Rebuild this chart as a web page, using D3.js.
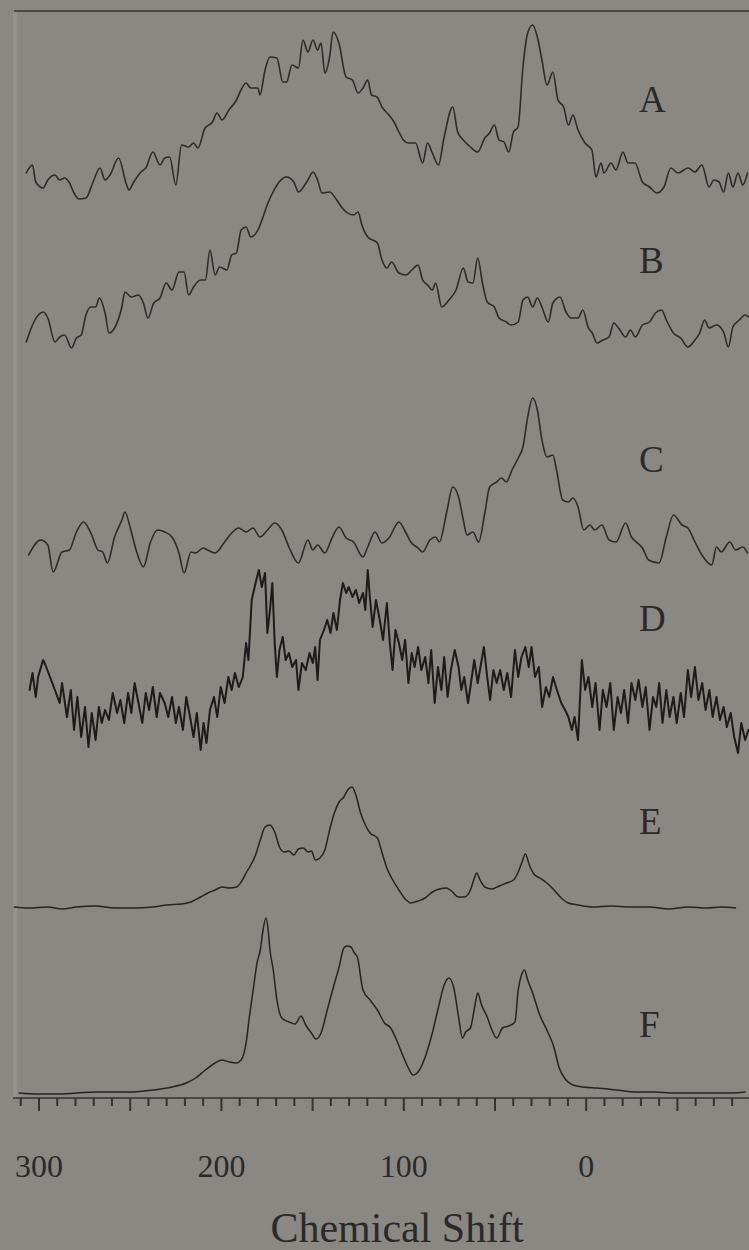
<!DOCTYPE html>
<html>
<head>
<meta charset="utf-8">
<script src="https://cdn.jsdelivr.net/npm/d3@7"></script>
<style>
  html, body { margin: 0; padding: 0; background: #8b8884; }
  svg { display: block; }
</style>
</head>
<body>
<svg id="chart" width="749" height="1250"></svg>
<script>
// ---- Spectra: chemical shift (ppm) and intensity (a.u., above each trace's own baseline) ----
const shiftA = [306.7,303.3,301.5,297.5,294.9,291.0,288.4,285.7,283.3,280.5,277.9,274.0,270.1,266.3,263.5,260.8,256.1,251.7,250.4,247.8,243.8,241.2,237.3,233.4,230.8,228.1,224.7,221.6,217.7,215.0,212.6,208.7,204.6,202.1,199.4,195.6,191.5,189.0,186.2,183.6,179.7,178.6,175.8,173.1,169.3,166.1,164.0,161.0,157.5,155.0,152.3,149.5,147.0,145.1,143.0,140.4,138.5,135.3,131.4,127.9,124.8,122.1,119.5,117.4,114.4,111.7,107.9,105.1,102.4,99.9,97.2,93.3,89.4,86.7,84.1,80.7,77.7,72.9,70.2,67.1,63.2,59.2,55.3,52.7,50.1,47.5,44.8,42.2,39.6,37.1,34.4,31.8,29.1,26.5,24.0,21.2,18.0,15.2,12.1,9.5,7.0,4.2,0.4,-3.4,-5.6,-8.4,-10.0,-13.9,-16.6,-20.4,-23.2,-27.0,-31.1,-35.0,-39.0,-42.9,-46.7,-50.6,-56.1,-59.9,-63.7,-67.6,-70.3,-73.1,-75.6,-78.2,-80.7,-83.5,-86.1,-88.7];
const intensityA = [2.5,3.3,1.6,1.0,1.8,2.3,1.8,2.0,1.6,0.5,-0.1,0.0,1.6,3.0,1.8,2.3,4.0,1.3,0.8,1.6,2.6,3.0,4.6,3.3,4.0,4.1,1.3,5.3,5.1,5.5,5.0,7.0,7.6,8.5,7.8,8.8,9.8,10.8,11.5,11.0,11.0,10.3,12.8,14.1,14.0,11.6,11.6,13.3,13.0,15.8,14.6,15.8,14.8,15.5,12.5,14.1,16.6,15.5,12.1,11.8,10.5,11.0,11.8,10.3,10.1,9.1,8.3,7.6,6.6,5.8,5.5,5.5,3.5,5.5,4.5,3.3,6.0,9.1,6.6,5.8,5.1,4.6,6.0,6.5,7.3,5.8,5.6,4.6,6.6,7.1,13.1,16.5,17.3,16.1,13.8,11.3,12.6,9.8,9.1,7.3,8.3,6.8,5.5,4.8,2.1,3.5,2.5,3.5,2.8,4.6,3.5,3.5,1.6,1.1,0.5,1.1,3.0,2.5,3.0,2.6,3.3,1.1,1.8,1.6,0.6,2.5,1.1,2.5,1.3,2.5];

const shiftB = [306.7,302.8,297.5,294.9,291.0,288.4,285.7,281.9,279.2,276.6,274.0,271.3,268.7,266.6,263.5,261.3,258.3,254.3,252.6,249.1,245.2,242.5,240.0,236.8,233.4,230.0,226.8,223.0,220.2,217.7,215.0,211.1,208.5,206.0,203.2,200.7,196.7,194.1,191.5,188.9,186.2,183.6,179.7,177.1,174.2,171.4,168.1,164.0,160.0,157.5,152.3,149.5,147.0,144.6,140.4,136.5,133.9,131.3,127.3,124.8,122.7,119.5,114.2,111.7,108.9,106.4,102.4,98.5,95.3,91.9,89.4,86.7,84.1,82.3,78.9,75.0,71.1,67.1,64.5,61.8,59.2,56.6,54.0,50.1,47.5,43.5,41.0,37.0,34.4,31.8,29.1,26.5,24.0,20.5,18.0,14.1,10.8,8.2,4.2,1.6,-1.5,-3.6,-6.2,-9.4,-12.8,-15.4,-18.0,-21.9,-24.5,-27.2,-31.1,-35.0,-38.2,-41.6,-44.2,-48.1,-52.1,-56.0,-59.9,-62.5,-65.2,-67.6,-71.7,-75.6,-78.2,-80.7,-84.2,-87.3,-89.5];
const intensityB = [1.1,3.0,4.1,3.5,1.1,1.6,1.8,0.5,1.5,1.8,3.8,4.6,4.6,5.5,4.0,2.0,2.5,4.6,6.1,5.6,5.8,5.0,3.5,5.0,5.5,7.0,6.3,8.1,8.1,5.8,6.6,7.3,7.3,10.3,7.8,8.6,8.3,9.8,10.0,12.3,12.6,11.6,12.3,13.5,15.0,16.1,17.1,17.6,17.1,16.1,17.3,18.1,17.3,16.0,16.1,15.3,14.6,14.1,13.8,14.1,12.8,11.6,11.0,9.3,8.5,9.1,8.0,7.8,8.3,8.8,7.3,6.8,6.3,7.0,4.6,5.3,6.3,8.5,7.1,7.0,9.5,7.0,5.1,4.6,3.5,3.1,2.8,3.1,5.3,5.6,4.6,5.5,4.6,3.1,5.0,5.6,4.1,3.5,3.5,4.3,2.5,2.0,1.0,1.3,1.6,3.0,2.5,1.6,2.3,1.6,2.8,3.1,4.0,4.3,3.3,2.0,1.5,0.6,1.3,2.0,3.3,2.5,2.8,2.1,0.6,2.6,3.3,3.8,3.6];

const shiftC = [305.4,298.8,294.9,292.0,287.1,283.1,279.2,275.3,271.3,267.4,264.8,262.2,258.3,254.3,252.6,249.8,246.5,242.5,238.6,234.7,230.8,226.8,223.0,220.2,216.4,213.8,209.8,207.2,203.2,198.0,194.1,190.2,186.2,182.4,178.6,174.4,170.5,166.6,162.7,157.5,152.3,149.6,147.0,143.0,139.1,135.3,131.3,127.3,122.1,119.5,115.5,111.7,107.9,102.4,98.5,95.9,91.9,89.4,85.4,82.3,80.2,76.3,72.9,69.7,67.1,65.1,61.8,58.7,55.3,52.7,48.8,46.2,43.5,40.4,37.0,34.4,31.8,29.1,26.5,24.0,21.2,18.0,16.0,12.6,9.5,7.0,4.2,1.1,-2.3,-4.9,-8.9,-12.8,-16.6,-21.9,-25.1,-27.7,-31.1,-34.5,-40.2,-44.2,-48.1,-52.8,-56.0,-59.9,-63.7,-69.1,-71.7,-74.3,-79.0,-82.2,-86.1,-88.7];
const intensityC = [1.3,2.8,2.3,-0.4,1.6,1.8,3.6,4.6,3.5,1.8,1.6,0.5,3.1,4.8,5.6,4.1,1.8,0.1,2.6,3.8,3.6,3.1,1.5,-0.5,1.6,1.5,2.0,1.8,1.5,2.6,3.5,4.0,3.6,4.0,3.1,3.8,4.5,3.8,2.1,0.5,2.8,1.8,2.3,1.5,3.0,4.1,3.0,2.6,1.1,2.1,3.6,2.5,3.0,4.6,3.5,2.6,2.0,1.6,2.8,3.1,2.6,5.5,8.1,7.1,4.8,3.3,3.6,2.6,5.5,8.1,8.6,9.0,8.6,9.8,11.0,12.1,15.1,17.0,15.8,12.8,11.1,11.3,9.8,6.8,6.6,7.0,6.1,3.8,4.3,3.8,4.3,2.8,2.6,4.5,3.1,2.6,2.0,0.8,0.5,3.1,5.3,4.3,4.0,2.6,1.3,0.3,2.1,1.6,2.6,1.8,2.1,1.5];

const shiftD = [304.9,303.3,301.5,300.2,297.5,296.2,293.7,291.0,288.4,287.1,284.4,282.3,280.5,278.7,276.6,274.5,272.6,270.8,268.7,266.9,265.3,263.5,261.4,259.3,256.9,255.1,253.0,250.9,249.1,247.3,245.2,243.1,241.2,239.4,237.3,235.2,233.4,230.8,228.9,226.8,224.7,223.0,220.8,219.0,216.9,215.0,213.2,211.1,209.5,207.9,206.0,203.8,202.0,200.1,198.0,195.9,194.1,192.3,190.2,188.0,186.2,184.9,183.1,181.0,179.2,177.6,175.8,174.5,173.1,171.8,170.5,169.3,167.9,166.1,164.5,162.7,160.9,158.8,157.5,155.6,153.5,151.4,149.6,148.3,147.0,145.7,143.5,141.7,139.9,138.3,136.4,134.7,133.1,131.3,129.9,127.9,126.0,124.2,122.1,120.8,119.5,118.2,116.8,115.0,112.9,111.1,109.0,107.4,105.9,104.3,102.4,100.6,99.0,97.2,95.4,93.8,91.9,90.1,88.0,86.2,84.7,82.8,81.0,79.1,77.6,75.7,73.9,71.8,69.7,68.2,66.6,64.5,62.9,61.1,59.2,57.7,55.8,54.0,52.4,50.6,48.8,46.9,44.9,43.0,40.9,38.8,37.0,35.2,33.1,31.2,29.7,27.8,25.7,23.9,21.8,20.0,17.9,15.8,13.4,11.3,9.5,7.6,6.1,4.2,2.1,0.3,-1.5,-3.6,-5.4,-7.6,-9.4,-11.4,-13.5,-15.4,-17.5,-19.3,-21.1,-23.2,-25.1,-27.2,-29.0,-31.1,-32.9,-35.0,-36.9,-38.7,-40.3,-42.1,-44.2,-46.0,-48.1,-49.9,-52.1,-53.9,-56.0,-57.8,-59.9,-61.8,-63.9,-65.7,-67.8,-69.6,-71.7,-73.6,-75.6,-77.4,-79.5,-81.4,-83.5,-85.3,-87.4,-89.2];
const intensityD = [6.8,8.5,6.1,8.1,9.8,9.3,8.1,6.8,5.5,7.5,4.1,6.8,2.8,6.1,2.1,5.1,1.1,4.5,1.8,5.1,3.5,4.8,3.8,6.5,4.5,5.8,3.5,6.5,4.5,7.5,5.5,3.5,6.5,4.8,7.1,4.1,6.5,5.5,4.1,6.1,3.5,5.1,2.8,6.1,4.1,2.1,4.5,0.8,3.5,1.5,4.8,6.1,4.1,7.1,5.5,8.1,6.8,8.5,7.1,8.1,11.5,9.8,15.8,17.5,18.8,17.1,18.5,12.5,14.8,17.5,11.5,8.1,10.8,12.1,9.8,10.5,9.1,9.8,6.8,9.5,8.8,10.5,9.5,11.1,7.8,11.8,12.8,13.8,12.5,14.5,12.8,15.8,17.5,16.5,17.1,16.1,16.8,15.5,16.5,14.8,18.8,15.8,13.1,15.8,13.8,11.8,15.5,11.5,8.8,12.8,11.5,9.8,11.8,7.5,10.5,9.1,11.1,8.8,10.1,7.5,10.8,5.5,9.1,6.8,10.1,6.1,8.8,10.8,9.1,6.8,8.1,5.5,7.5,9.8,7.5,9.1,11.1,8.1,5.8,8.8,7.5,8.8,6.8,8.5,6.1,10.8,8.1,10.1,11.1,9.1,11.1,8.1,9.1,5.1,7.1,6.1,8.1,6.8,5.5,4.8,4.1,2.8,4.1,1.8,9.8,6.8,8.1,5.1,7.5,2.8,6.8,5.1,7.5,2.8,6.1,4.5,6.8,3.5,7.5,5.8,7.8,5.1,7.1,2.8,6.1,5.1,7.5,3.5,6.8,4.1,6.1,3.5,6.5,4.1,8.8,6.1,9.1,5.8,7.5,4.8,6.8,4.1,6.1,3.8,5.1,3.1,4.5,2.1,0.5,3.5,1.8,2.8];

const shiftE = [313.3,305.4,294.9,287.1,279.2,268.7,258.3,247.8,237.3,229.4,221.6,216.4,211.1,207.2,203.2,199.4,195.4,191.5,188.9,186.2,183.6,181.0,178.4,175.8,173.1,170.5,167.9,165.3,162.7,160.0,157.5,154.8,152.2,150.4,148.2,145.7,143.0,140.4,137.8,135.2,132.6,130.5,128.1,126.0,123.4,120.8,118.2,114.2,111.6,109.0,106.4,102.4,98.5,95.9,91.9,88.0,84.1,80.2,76.3,73.6,69.7,66.6,63.2,61.4,59.8,57.9,55.3,51.4,47.4,43.5,39.6,37.0,34.9,33.1,30.9,28.4,25.2,21.3,17.3,13.4,9.5,4.2,-3.6,-14.1,-24.5,-35.0,-45.5,-56.0,-66.5,-74.3,-82.2];
const intensityE = [0.1,0.0,0.1,-0.1,0.1,0.2,0.0,0.0,0.1,0.3,0.4,0.6,1.1,1.5,1.8,2.1,2.0,2.1,2.6,3.5,4.3,5.3,6.8,8.1,8.3,7.6,6.1,5.6,5.7,5.3,5.9,6.0,5.6,5.7,4.8,5.0,5.8,7.8,9.5,10.6,11.1,11.8,12.1,11.3,9.5,8.3,7.5,7.0,5.5,4.0,3.0,1.8,0.8,0.5,0.7,1.0,1.6,1.9,2.0,1.7,1.1,1.1,1.8,2.8,3.5,2.8,2.1,1.9,2.2,2.5,2.8,3.6,4.6,5.4,4.3,3.4,3.0,2.5,1.8,1.0,0.5,0.3,0.1,0.2,0.1,0.1,-0.1,0.1,0.0,0.1,0.0];

const shiftF = [310.6,300.2,289.7,279.2,268.7,258.3,247.8,237.3,226.8,219.0,213.8,208.5,203.2,199.4,195.4,191.5,188.9,186.2,184.4,182.3,180.2,178.4,176.9,175.3,174.2,173.1,171.3,169.3,166.6,162.7,159.3,156.1,153.5,150.4,147.8,145.1,141.7,138.3,135.2,132.6,130.9,128.7,126.8,125.2,122.1,118.2,114.2,110.3,106.9,103.7,99.9,97.2,94.6,91.9,88.0,84.1,80.7,77.6,75.0,72.3,69.7,67.6,65.8,63.2,60.5,59.2,57.1,54.0,51.4,48.8,45.6,42.2,38.8,37.0,35.2,33.6,31.8,29.1,25.2,21.3,17.3,14.7,10.8,6.9,1.6,-6.2,-16.7,-27.2,-37.6,-48.1,-58.6,-69.1,-79.5,-87.4];
const intensityF = [0.0,-0.1,-0.1,0.0,0.1,0.1,0.1,0.3,0.6,1.0,1.5,2.3,3.0,3.3,3.1,3.0,3.3,5.0,7.6,10.3,13.0,14.3,16.3,17.5,16.5,14.3,12.3,9.3,7.5,7.1,6.9,7.7,6.8,6.0,5.4,6.0,8.3,10.6,12.6,14.5,14.7,14.6,14.0,13.6,10.3,9.3,8.3,7.0,6.5,5.3,3.6,2.5,1.8,2.1,3.6,6.0,8.6,10.8,11.5,10.5,7.6,5.5,6.1,6.5,9.0,10.0,8.8,7.6,6.3,5.5,6.5,6.7,7.1,10.3,11.8,12.3,11.3,10.0,7.8,6.3,4.5,2.6,1.3,0.8,0.6,0.5,0.3,0.1,0.1,0.0,0.0,0.0,0.0,0.1];

// Trace names and the vertical offset (a.u.) each trace is stacked at
const traceNames = ["A", "B", "C", "D", "E", "F"];
const traceOffsets = [90, 74.5, 53, 34, 19, 0.5];

// Axis: labelled shifts, tick spacing (ppm) and drawn extent of the axis
const labelShifts = [300, 200, 100, 0];
const minorStep = 10;
const majorStep = 50;
const shiftExtent = [314, -89.5];
const axisTitle = "Chemical Shift";

// ---- Layout ----
const W = 749, H = 1250;
const axisY = 1098;
const frameTop = 11;
const serif = "'Liberation Serif', 'Times New Roman', serif";
const ink = "#2a2a2a";

const svg = d3.select("#chart");

svg.append("rect").attr("width", W).attr("height", H).attr("fill", "#8b8884");

// Shift scale: high ppm on the left, as is usual for NMR
const x = d3.scaleLinear().domain([300, 0]).range([38.5, 585.7]);
// Intensity scale shared by all stacked traces
const y = d3.scaleLinear().domain([0, 108.8]).range([axisY, frameTop - 1]);

// Left edge strip and top rule of the plot frame
svg.append("rect")
  .attr("x", x(shiftExtent[0])).attr("y", frameTop)
  .attr("width", 4).attr("height", axisY - frameTop)
  .attr("fill", "#96938f");
svg.append("line")
  .attr("x1", x(shiftExtent[0]) + 1).attr("x2", W)
  .attr("y1", frameTop).attr("y2", frameTop)
  .attr("stroke", "#333").attr("stroke-width", 1.6);

// ---- Spectra ----
const traces = [
  { shift: shiftA, val: intensityA, curve: d3.curveMonotoneX, width: 1.6, color: "#2c2c2c" },
  { shift: shiftB, val: intensityB, curve: d3.curveMonotoneX, width: 1.6, color: "#2c2c2c" },
  { shift: shiftC, val: intensityC, curve: d3.curveMonotoneX, width: 1.6, color: "#2c2c2c" },
  { shift: shiftD, val: intensityD, curve: d3.curveLinear,    width: 2.0, color: "#1c1c1c" },
  { shift: shiftE, val: intensityE, curve: d3.curveMonotoneX, width: 1.5, color: "#242424" },
  { shift: shiftF, val: intensityF, curve: d3.curveMonotoneX, width: 1.5, color: "#242424" }
];

const plot = svg.append("g");
traces.forEach((t, i) => {
  const pts = t.shift.map((s, k) => [s, t.val[k] + traceOffsets[i]]);
  const line = d3.line()
    .x(d => x(d[0]))
    .y(d => y(d[1]))
    .curve(t.curve);
  plot.append("path")
    .attr("d", line(pts))
    .attr("fill", "none")
    .attr("stroke", t.color)
    .attr("stroke-width", t.width)
    .attr("stroke-linejoin", "round")
    .attr("stroke-linecap", "round");
});

// Trace letters
const labelBaselines = [112, 273, 472, 631, 834, 1037];
svg.append("g").selectAll("text")
  .data(traceNames)
  .join("text")
  .attr("x", 639)
  .attr("y", (d, i) => labelBaselines[i])
  .attr("font-family", serif)
  .attr("font-size", 37)
  .attr("fill", ink)
  .text(d => d);

// ---- Shift axis ----
const minorTicks = d3.range(Math.floor(shiftExtent[0] / minorStep) * minorStep, shiftExtent[1], -minorStep);
const majorTicks = minorTicks.filter(v => v % majorStep === 0);

const axisG = svg.append("g").attr("transform", `translate(0,${axisY})`);

axisG.append("line")
  .attr("x1", x(shiftExtent[0])).attr("x2", x(shiftExtent[1]))
  .attr("stroke", "#333").attr("stroke-width", 1.6);

const minorAxis = axisG.append("g")
  .call(d3.axisBottom(x).tickValues(minorTicks.filter(v => v % majorStep !== 0)).tickSize(8).tickFormat(""));
const majorAxis = axisG.append("g")
  .call(d3.axisBottom(x).tickValues(majorTicks).tickSize(13).tickFormat(""));
const labelAxis = axisG.append("g")
  .call(d3.axisBottom(x).tickValues(labelShifts).tickSize(0).tickPadding(56).tickFormat(d3.format("d")));

[minorAxis, majorAxis, labelAxis].forEach(g => {
  g.select(".domain").remove();
  g.selectAll(".tick line").attr("stroke", "#333").attr("stroke-width", 2);
});
labelAxis.selectAll("text")
  .attr("font-family", serif)
  .attr("font-size", 32)
  .attr("fill", ink);

svg.append("text")
  .attr("x", 397).attr("y", 1242)
  .attr("text-anchor", "middle")
  .attr("font-family", serif)
  .attr("font-size", 42)
  .attr("fill", ink)
  .text(axisTitle);
</script>
</body>
</html>
